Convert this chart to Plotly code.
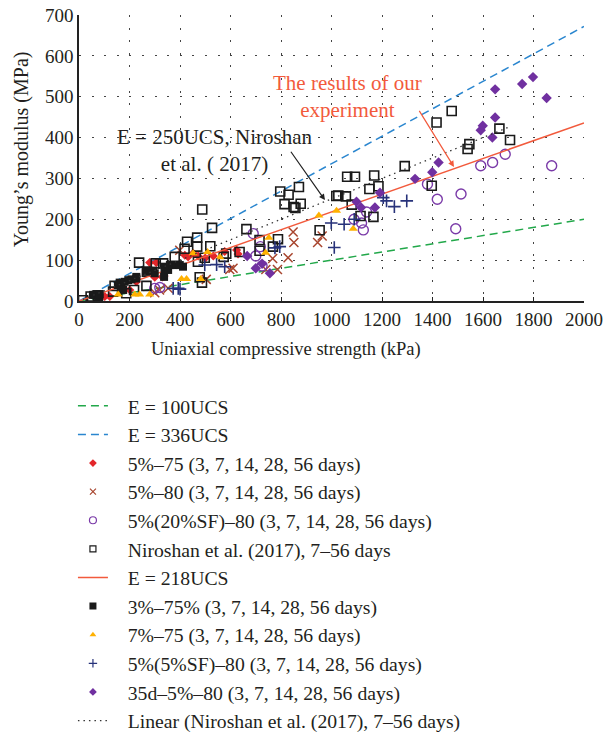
import plotly.graph_objects as go

# ---------------- data ----------------
red_diamond_x = [102, 122, 201, 227, 280, 300, 306, 330, 337, 419, 432, 452, 472, 500, 532, 577, 624, 630]
red_diamond_y = [11, 11, 27, 47, 94, 58, 94, 59, 61, 112, 108, 117, 110, 105, 110, 121, 125, 115]

brown_x_x = [300, 319, 353, 399, 504, 597, 610, 740, 767, 786, 828, 848, 851, 945, 963]
brown_x_y = [20, 27, 31, 124, 53, 77, 80, 77, 104, 77, 106, 169, 143, 143, 159]

circle_x = [300, 320, 690, 700, 718, 725, 1089, 1119, 1126, 1139, 1380, 1419, 1492, 1513, 1591, 1638, 1688, 1872]
circle_y = [31, 33, 165, 110, 133, 86, 200, 191, 174, 218, 286, 249, 177, 262, 331, 339, 359, 331]

nir_x = [16, 46, 75, 135, 141, 187, 218, 238, 267, 269, 304, 333, 379, 418, 428, 468, 468, 471, 478, 487,
         488, 498, 520, 527, 573, 583, 636, 663, 715, 715, 768, 788, 797, 814, 830, 850, 857, 871, 878, 953,
         1019, 1027, 1057, 1062, 1080, 1093, 1115, 1150, 1166, 1169, 1186, 1290, 1397, 1416, 1476, 1539,
         1546, 1665, 1707]
nir_y = [2, 11, 13, 23, 37, 19, 27, 94, 37, 72, 92, 92, 108, 128, 145, 155, 133, 96, 58, 45,
         224, 106, 134, 179, 108, 116, 120, 176, 149, 123, 133, 151, 268, 237, 260, 230, 228, 279, 238, 173,
         257, 258, 256, 304, 236, 304, 208, 274, 206, 307, 281, 330, 282, 437, 465, 372,
         384, 422, 394]

black_sq_x = [55, 62, 69, 77, 82, 154, 161, 168, 175, 181, 195, 208, 227, 227, 267, 287, 293, 300, 337,
              339, 340, 353, 360, 372, 385, 399, 412]
black_sq_y = [15, 15, 17, 7, 17, 39, 45, 33, 27, 47, 51, 53, 55, 59, 72, 74, 74, 68, 59,
              77, 84, 76, 88, 88, 88, 88, 84]

tri_x = [155, 221, 240, 280, 406, 426, 482, 452, 509, 558, 739, 752, 950, 1020, 1086]
tri_y = [16, 16, 16, 16, 54, 54, 54, 117, 120, 107, 118, 155, 209, 221, 177]

plus_x = [373, 393, 400, 498, 545, 577, 776, 795, 999, 1011, 1050, 1090, 1205, 1218, 1249, 1298]
plus_y = [31, 31, 29, 88, 89, 84, 130, 133, 191, 131, 188, 200, 253, 245, 231, 245]

pdia_x = [666, 700, 725, 756, 1099, 1117, 1172, 1192, 1331, 1399, 1424, 1591, 1599, 1637, 1648, 1648,
          1755, 1798, 1852]
pdia_y = [110, 80, 91, 68, 243, 229, 229, 265, 299, 315, 339, 418, 429, 400, 449, 518,
          531, 548, 497]

# reference lines: E = k * UCS (UCS in MPa) -> slope k/1000 with UCS in kPa
line_x = [0, 2000]
trend_x = [16, 1707]
slope_100, slope_336, slope_218, slope_250 = 100, 336, 218, 250

x_ticks = [0, 200, 400, 600, 800, 1000, 1200, 1400, 1600, 1800, 2000]
y_ticks = [0, 100, 200, 300, 400, 500, 600, 700]

FONT = "Liberation Serif"
pad = "\u00a0\u00a0\u00a0"
TXT = "#231f20"

fig = go.Figure()


def add_line(xs, slope, name, color, dash, width=1.5):
    fig.add_trace(go.Scatter(
        x=xs, y=[slope / 1000 * v for v in xs], mode="lines", name=pad + name,
        line=dict(color=color, dash=dash, width=width)))


def add_pts(xs, ys, name, symbol, color, size, lw, leg_size, fill=None):
    # data points
    fig.add_trace(go.Scatter(
        x=xs, y=ys, mode="markers", name=pad + name, showlegend=False,
        marker=dict(symbol=symbol, size=size, color=fill if fill else color,
                    line=dict(color=color, width=lw))))
    # legend entry (smaller symbol, as in the original legend)
    fig.add_trace(go.Scatter(
        x=[None], y=[None], mode="markers", name=pad + name, showlegend=True,
        marker=dict(symbol=symbol, size=leg_size, color=fill if fill else color,
                    line=dict(color=color, width=min(lw, 1.2)))))


add_line(line_x, slope_100, "E = 100UCS", "#22a84a", "8px,5px")
add_line(line_x, slope_336, "E = 336UCS", "#2a86cf", "8px,5px")
add_pts(red_diamond_x, red_diamond_y, "5%\u201375 (3, 7, 14, 28, 56 days)", "diamond", "#e3262a", 7, 0, 6)
add_pts(brown_x_x, brown_x_y, "5%\u201380 (3, 7, 14, 28, 56 days)", "x-thin", "#a8452e", 9, 1.5, 6)
add_pts(circle_x, circle_y, "5%(20%SF)\u201380 (3, 7, 14, 28, 56 days)", "circle-open", "#7a3aa8", 10, 1.4, 7)
add_pts(nir_x, nir_y, "Niroshan et al. (2017), 7\u201356 days", "square-open", "#1a1a1a", 9, 1.6, 6)
add_line(line_x, slope_218, "E = 218UCS", "#f25a3c", "solid")
add_pts(black_sq_x, black_sq_y, "3%\u201375% (3, 7, 14, 28, 56 days)", "square", "#1a1a1a", 8, 0, 7)
add_pts(tri_x, tri_y, "7%\u201375 (3, 7, 14, 28, 56 days)", "triangle-up", "#ffb100", 8, 0, 6)
add_pts(plus_x, plus_y, "5%(5%SF)\u201380 (3, 7, 14, 28, 56 days)", "cross-thin", "#27327a", 9, 1.6, 6)
add_pts(pdia_x, pdia_y, "35d\u20135%\u201380 (3, 7, 14, 28, 56 days)", "diamond", "#7030a0", 8, 0, 6)
add_line(trend_x, slope_250, "Linear (Niroshan et al. (2017), 7\u201356 days)", "#333333", "1.5px,4px", 1.3)

# annotations
fig.add_annotation(x=974, y=247, ax=835, ay=369, xref="x", yref="y", axref="x", ayref="y",
                   showarrow=True, arrowhead=2, arrowsize=1, arrowwidth=1.2, arrowcolor="#222222", text="")
fig.add_annotation(x=1485, y=328, ax=1344, ay=469, xref="x", yref="y", axref="x", ayref="y",
                   showarrow=True, arrowhead=2, arrowsize=1, arrowwidth=1.2, arrowcolor="#f25a3c", text="")
fig.add_annotation(x=538, y=369, xref="x", yref="y", showarrow=False,
                   text="E = 250UCS, Niroshan<br>et al. ( 2017)",
                   font=dict(family=FONT, size=21, color=TXT), align="center")
fig.add_annotation(x=1065, y=501, xref="x", yref="y", showarrow=False,
                   text="The results of our<br>experiment",
                   font=dict(family=FONT, size=21, color="#f25a3c"), align="center")

# axis titles (offset from the axis centre as in the original)
fig.add_annotation(x=0.41, y=-0.17, xref="paper", yref="paper", showarrow=False,
                   text="Uniaxial compressive strength (kPa)", yanchor="middle",
                   font=dict(family=FONT, size=18.5, color=TXT))
fig.add_annotation(x=-0.115, y=0.53, xref="paper", yref="paper", showarrow=False,
                   text="Young\u2019s modulus (MPa)", textangle=-90, xanchor="center", yanchor="middle",
                   font=dict(family=FONT, size=20, color=TXT))

grid_dash = "2px,10.6px"
fig.update_layout(
    width=605, height=736,
    margin=dict(l=79, r=21, t=15, b=435, autoexpand=False),
    paper_bgcolor="white", plot_bgcolor="white",
    font=dict(family=FONT, size=19, color=TXT),
    showlegend=True,
    legend=dict(x=-0.012, xanchor="left", y=-0.299, yanchor="top",
                font=dict(family=FONT, size=19.7, color=TXT),
                bgcolor="rgba(0,0,0,0)", itemwidth=30, tracegroupgap=0),
    xaxis=dict(range=[0, 2000], tickvals=x_ticks, showgrid=True, gridcolor="#444444",
               griddash=grid_dash, gridwidth=1, showline=True, linecolor="#222222", linewidth=1.5,
               zeroline=False, ticks="inside", ticklen=4, tickcolor="#222222", automargin=False,
               tickfont=dict(family=FONT, size=19, color=TXT)),
    yaxis=dict(range=[0, 700], tickvals=y_ticks, showgrid=True, gridcolor="#444444",
               griddash=grid_dash, gridwidth=1, showline=True, linecolor="#222222", linewidth=1.5,
               zeroline=False, ticks="", automargin=False,
               tickfont=dict(family=FONT, size=19, color=TXT)),
)

fig.write_html("out.html")
